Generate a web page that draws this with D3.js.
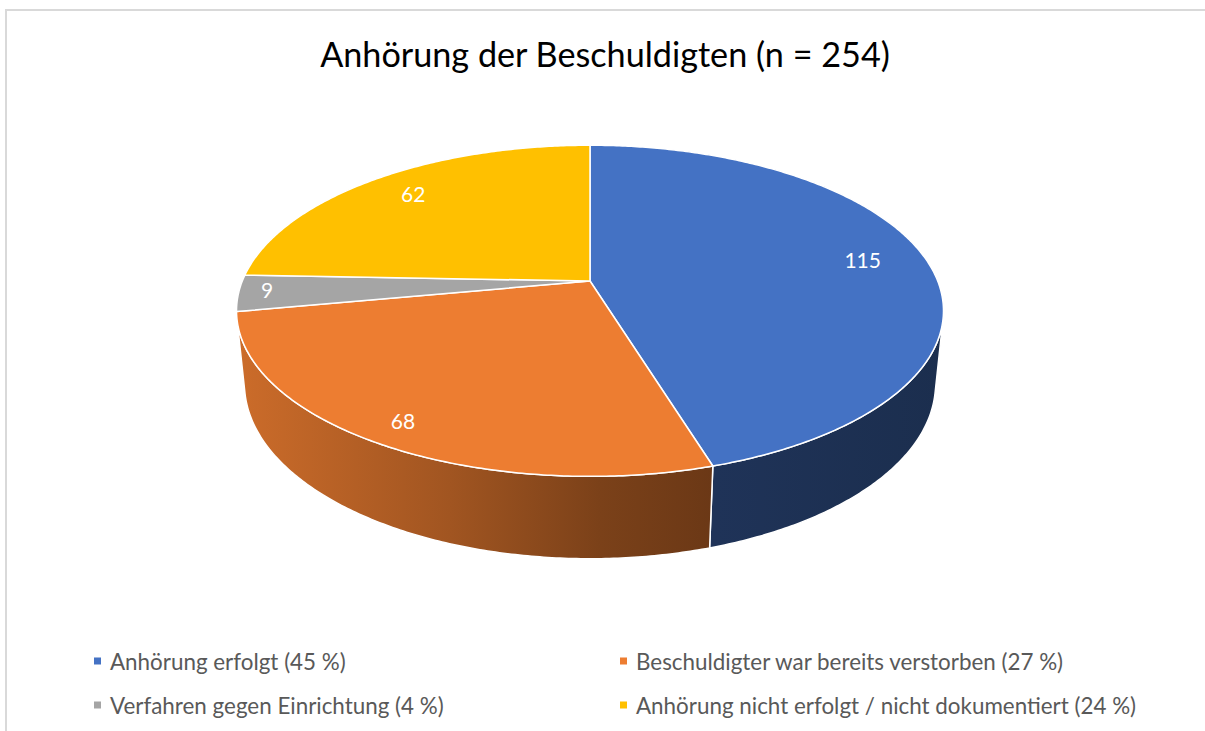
<!DOCTYPE html>
<html>
<head>
<meta charset="utf-8">
<script src="https://cdn.jsdelivr.net/npm/d3@7"></script>
<style>
  body { margin: 0; background: #fff; }
  svg { display: block; }
</style>
</head>
<body>
<svg id="chart" width="1205" height="731"></svg>
<script>
const title = "Anhörung der Beschuldigten (n = 254)";
const categories = ["Anhörung erfolgt", "Beschuldigter war bereits verstorben", "Verfahren gegen Einrichtung", "Anhörung nicht erfolgt / nicht dokumentiert"];
const values = [115, 68, 9, 62];
const percents = ["45 %", "27 %", "4 %", "24 %"];
const colors = ["#4472C4", "#ED7D31", "#A5A5A5", "#FFC000"];

const width = 1205, height = 731;
const svg = d3.select("#chart");

// frame
svg.append("rect")
    .attr("x", 6).attr("y", 10)
    .attr("width", width + 20).attr("height", height + 20)
    .attr("fill", "none").attr("stroke", "#d9d9d9").attr("stroke-width", 2);

svg.append("text")
    .attr("x", 605).attr("y", 67)
    .attr("text-anchor", "middle")
    .attr("font-family", "Lato, sans-serif")
    .attr("font-size", 34.2)
    .attr("fill", "#000")
    .text(title);

// 3d pie projection (units of radius)
const cx = 590, cy = 281, kR = 347.7;
const sinA = 0.4607, cosA = Math.sqrt(1 - sinA * sinA);
const rho = 0.2028;            // radius / camera distance
const thick = 0.239;           // pie height in radius units

function project(u, v, z) {
    const depth = 1 - rho * (v * cosA + z * sinA);
    return [cx + kR * u / depth, cy - kR * (z * cosA - v * sinA) / depth];
}

function rimPoint(theta, r, z) {
    return project(r * Math.cos(theta), r * Math.sin(theta), z);
}

const pie = d3.pie().sort(null).value(d => d);
const arcs = pie(values);
const line = d3.line();

// which part of the side wall faces the viewer
const thetaMin = Math.asin(rho / cosA), thetaMax = Math.PI - thetaMin;

// shading across the wall, darker to the right
const light = d3.scaleLinear()
    .domain([236, 450, 600, 714, 944])
    .range([0.86, 0.68, 0.52, 0.45, 0.40]);

const defs = svg.append("defs");
arcs.forEach((a, i) => {
    const base = d3.rgb(colors[i]);
    const grad = defs.append("linearGradient")
        .attr("id", "wall" + i)
        .attr("gradientUnits", "userSpaceOnUse")
        .attr("x1", 236).attr("x2", 944).attr("y1", 0).attr("y2", 0);
    light.domain().forEach(x => {
        const f = light(x);
        grad.append("stop")
            .attr("offset", (x - 236) / (944 - 236))
            .attr("stop-color", d3.rgb(base.r * f, base.g * f, base.b * f).formatHex());
    });
});

function sample(t0, t1) {
    const n = Math.max(2, Math.ceil(Math.abs(t1 - t0) / 0.01));
    return d3.range(n + 1).map(k => t0 + (t1 - t0) * k / n);
}

const g = svg.append("g");

// walls
arcs.forEach((a, i) => {
    const t0 = Math.max(a.startAngle - Math.PI / 2, thetaMin);
    const t1 = Math.min(a.endAngle - Math.PI / 2, thetaMax);
    if (t1 <= t0) return;
    const ts = sample(t0, t1);
    const top = ts.map(t => rimPoint(t, 1, 0));
    const bottom = ts.slice().reverse().map(t => rimPoint(t, 1, -thick));
    g.append("path")
        .attr("d", line(top.concat(bottom)) + "Z")
        .attr("fill", `url(#wall${i})`)
        .attr("stroke", "#fff")
        .attr("stroke-width", 1.5)
        .attr("stroke-linejoin", "round");
});

// top faces
arcs.forEach((a, i) => {
    const ts = sample(a.startAngle - Math.PI / 2, a.endAngle - Math.PI / 2);
    const pts = [project(0, 0, 0)].concat(ts.map(t => rimPoint(t, 1, 0)));
    g.append("path")
        .attr("d", line(pts) + "Z")
        .attr("fill", colors[i])
        .attr("stroke", "#fff")
        .attr("stroke-width", 1.5)
        .attr("stroke-linejoin", "round");
});

// data labels
const total = d3.sum(values);
arcs.forEach((a, i) => {
    const mid = (a.startAngle + a.endAngle) / 2 - Math.PI / 2;
    const r = values[i] / total < 0.06 ? 0.92 : 0.81 + 0.1 * Math.max(0, Math.sin(mid));
    const [x, y] = rimPoint(mid, r, 0);
    g.append("text")
        .attr("x", x).attr("y", y - 3)
        .attr("text-anchor", "middle")
        .attr("dominant-baseline", "central")
        .attr("font-family", "Lato, sans-serif")
        .attr("font-size", 21)
        .attr("fill", "#fff")
        .text(values[i]);
});

// legend
const legendX = d3.scaleOrdinal().domain([0, 1]).range([94, 620]);
const legendY = d3.scaleOrdinal().domain([0, 1]).range([661, 705]);
const legend = svg.append("g");
categories.forEach((c, i) => {
    const col = i % 2, row = Math.floor(i / 2);
    const item = legend.append("g")
        .attr("transform", `translate(${legendX(col)},${legendY(row)})`);
    item.append("rect")
        .attr("x", 0).attr("y", -3.5)
        .attr("width", 7).attr("height", 7)
        .attr("fill", colors[i]);
    item.append("text")
        .attr("x", 16).attr("y", 0)
        .attr("dominant-baseline", "central")
        .attr("font-family", "Lato, sans-serif")
        .attr("font-size", 22.4)
        .attr("fill", "#595959")
        .text(`${c} (${percents[i]})`);
});
</script>
</body>
</html>
